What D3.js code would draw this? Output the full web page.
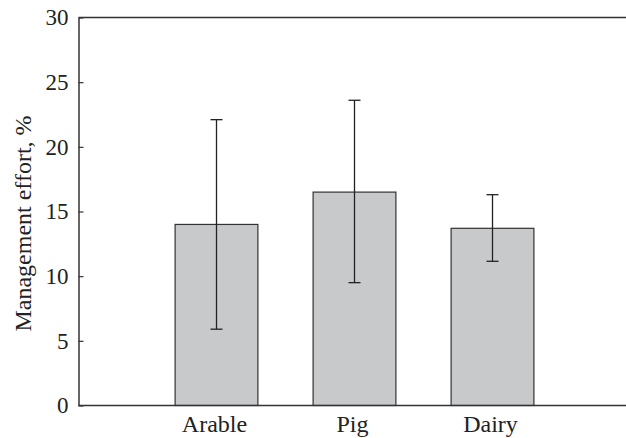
<!DOCTYPE html>
<html lang="en">
<head>
    <meta charset="UTF-8">
    <title>Management effort</title>
    <script src="https://d3js.org/d3.v7.min.js"></script>
    <style>
        body { margin: 0; background: #fff; }
        svg { display: block; }
    </style>
</head>
<body>
    <script>
        const categories = ["Arable", "Pig", "Dairy"];
        const means = [14.0, 16.5, 13.7];
        const errLow = [5.9, 9.5, 11.15];
        const errHigh = [22.1, 23.6, 16.3];
        const yTicks = [0, 5, 10, 15, 20, 25, 30];

        const width = 626;
        const height = 438;
        const margin = { top: 17.5, right: 0, bottom: 32.5, left: 78.5 };
        const serif = "Liberation Serif";

        let svg = d3.select("body").append("svg")
            .attr("width", width)
            .attr("height", height);

        const x = d3.scaleBand()
            .domain(categories)
            .range([margin.left, 630.5])
            .paddingInner(0.4)
            .paddingOuter(0.7);

        const y = d3.scaleLinear()
            .domain([0, 30])
            .range([height - margin.bottom, margin.top]);

        const data = categories.map((c, i) => ({
            cat: c, mean: means[i], lo: errLow[i], hi: errHigh[i]
        }));

        // bars
        svg.append("g").selectAll("rect")
            .data(data)
            .enter()
            .append("rect")
            .attr("x", d => x(d.cat))
            .attr("y", d => y(d.mean))
            .attr("width", x.bandwidth())
            .attr("height", d => y(0) - y(d.mean))
            .attr("fill", "#c8c9cb")
            .attr("stroke", "#333")
            .attr("stroke-width", 1.2);

        // error bars
        let err = svg.append("g").selectAll("g")
            .data(data)
            .enter()
            .append("g")
            .attr("stroke", "#222")
            .attr("stroke-width", 1.3);

        const cx = d => x(d.cat) + x.bandwidth() / 2;
        err.append("line")
            .attr("x1", cx).attr("x2", cx)
            .attr("y1", d => y(d.lo))
            .attr("y2", d => y(d.hi));
        err.append("line")
            .attr("x1", d => cx(d) - 6).attr("x2", d => cx(d) + 6)
            .attr("y1", d => y(d.hi)).attr("y2", d => y(d.hi));
        err.append("line")
            .attr("x1", d => cx(d) - 6).attr("x2", d => cx(d) + 6)
            .attr("y1", d => y(d.lo)).attr("y2", d => y(d.lo));

        // y axis, ticks pointing inward
        let yAxis = svg.append("g")
            .attr("transform", `translate(${margin.left},0)`)
            .call(d3.axisLeft(y).tickValues(yTicks).tickSize(-5).tickSizeOuter(0));
        yAxis.attr("font-family", serif).attr("font-size", 23);
        yAxis.select(".domain").attr("stroke", "#333").attr("stroke-width", 1.5);
        yAxis.selectAll(".tick line").attr("stroke", "#333").attr("stroke-width", 1.2);
        yAxis.selectAll("text")
            .attr("x", -10)
            .attr("fill", "#222");

        // x axis, labels only
        let xAxis = svg.append("g")
            .attr("transform", `translate(0,${y(0)})`)
            .call(d3.axisBottom(x).tickSize(0).tickPadding(9));
        xAxis.attr("font-family", serif).attr("font-size", 24);
        xAxis.select(".domain").remove();
        xAxis.selectAll("text")
            .attr("dx", -2)
            .attr("fill", "#222");

        // frame lines: bottom and top
        svg.append("line")
            .attr("x1", margin.left).attr("x2", width)
            .attr("y1", y(0)).attr("y2", y(0))
            .attr("stroke", "#333").attr("stroke-width", 1.5);
        svg.append("line")
            .attr("x1", margin.left).attr("x2", width)
            .attr("y1", y(30)).attr("y2", y(30))
            .attr("stroke", "#333").attr("stroke-width", 1.5);

        // y label
        svg.append("text")
            .attr("transform", `translate(31,${(y(0) + y(30)) / 2 + 12}) rotate(-90)`)
            .attr("text-anchor", "middle")
            .attr("font-family", serif)
            .attr("font-size", 24)
            .attr("fill", "#222")
            .text("Management effort, %");
    </script>
</body>
</html>
